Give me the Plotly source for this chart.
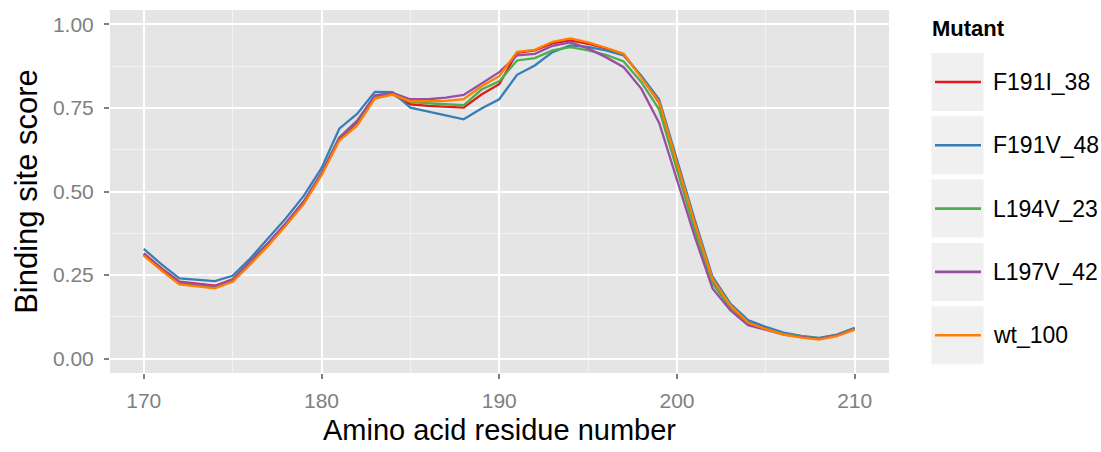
import plotly.graph_objects as go

# Residue positions along the sequence
residues = list(range(170, 211))

# Binding site score per residue for each mutant
f191i_38 = [0.315, 0.270, 0.230, 0.224, 0.218, 0.237, 0.290, 0.346, 0.405, 0.470,
            0.553, 0.657, 0.707, 0.786, 0.791, 0.761, 0.756, 0.753, 0.751, 0.790,
            0.821, 0.915, 0.922, 0.943, 0.952, 0.942, 0.928, 0.911, 0.843, 0.765,
            0.580, 0.400, 0.235, 0.158, 0.110, 0.090, 0.075, 0.066, 0.060, 0.070, 0.090]
f191v_48 = [0.328, 0.282, 0.240, 0.236, 0.232, 0.248, 0.300, 0.360, 0.420, 0.487,
            0.570, 0.688, 0.732, 0.798, 0.797, 0.751, 0.739, 0.728, 0.716, 0.748,
            0.776, 0.849, 0.877, 0.917, 0.937, 0.933, 0.922, 0.907, 0.846, 0.775,
            0.595, 0.415, 0.245, 0.165, 0.115, 0.095, 0.078, 0.068, 0.062, 0.072, 0.092]
l194v_23 = [0.310, 0.266, 0.226, 0.221, 0.215, 0.234, 0.288, 0.344, 0.403, 0.468,
            0.555, 0.662, 0.712, 0.786, 0.795, 0.768, 0.764, 0.762, 0.758, 0.805,
            0.830, 0.892, 0.899, 0.922, 0.932, 0.922, 0.909, 0.889, 0.827, 0.745,
            0.565, 0.385, 0.225, 0.152, 0.106, 0.088, 0.074, 0.066, 0.060, 0.071, 0.090]
l197v_42 = [0.312, 0.268, 0.228, 0.222, 0.217, 0.235, 0.290, 0.345, 0.405, 0.470,
            0.555, 0.660, 0.710, 0.787, 0.795, 0.776, 0.776, 0.781, 0.789, 0.822,
            0.857, 0.907, 0.912, 0.936, 0.946, 0.928, 0.902, 0.872, 0.807, 0.705,
            0.535, 0.365, 0.210, 0.145, 0.100, 0.085, 0.072, 0.065, 0.060, 0.070, 0.088]
wt_100 = [0.308, 0.263, 0.222, 0.216, 0.210, 0.230, 0.282, 0.338, 0.398, 0.462,
          0.548, 0.652, 0.697, 0.778, 0.790, 0.770, 0.770, 0.771, 0.776, 0.815,
          0.845, 0.918, 0.924, 0.948, 0.958, 0.946, 0.930, 0.912, 0.840, 0.768,
          0.585, 0.405, 0.238, 0.160, 0.108, 0.088, 0.072, 0.063, 0.057, 0.067, 0.087]

mutant_names = ["F191I_38", "F191V_48", "L194V_23", "L197V_42", "wt_100"]
mutant_scores = [f191i_38, f191v_48, l194v_23, l197v_42, wt_100]
mutant_colors = ["#E41A1C", "#377EB8", "#4DAF4A", "#984EA3", "#FF7F00"]

x_ticks = [170, 180, 190, 200, 210]
y_ticks = [0.0, 0.25, 0.5, 0.75, 1.0]
y_tick_text = ["0.00", "0.25", "0.50", "0.75", "1.00"]

FONT = "Liberation Sans, Arial, sans-serif"
W, H = 1101, 452
M_L, M_R, M_T, M_B = 110, 212, 10, 79
PW = W - M_L - M_R
PH = H - M_T - M_B


def px_x(px):
    return (px - M_L) / PW


def px_y(py):
    return 1 - (py - M_T) / PH


fig = go.Figure()
for name, scores, color in zip(mutant_names, mutant_scores, mutant_colors):
    fig.add_trace(go.Scatter(
        x=residues, y=scores, mode="lines", name=name,
        line=dict(color=color, width=2.3), showlegend=False,
    ))

# Legend panel: title, grey key boxes, coloured key lines and labels
shapes = []
annotations = [dict(
    text="<b>Mutant</b>", x=px_x(930), y=px_y(29), xref="paper", yref="paper",
    xanchor="left", yanchor="middle", showarrow=False,
    font=dict(family=FONT, size=22, color="black"),
)]
key_top, key_h, key_gap = 53, 58, 5.3
for i, (name, color) in enumerate(zip(mutant_names, mutant_colors)):
    top = key_top + i * (key_h + key_gap)
    mid = top + key_h / 2
    shapes.append(dict(
        type="rect", xref="paper", yref="paper", layer="below",
        x0=px_x(931.5), x1=px_x(983.5), y0=px_y(top + key_h), y1=px_y(top),
        fillcolor="#F0F0F0", line=dict(width=0),
    ))
    shapes.append(dict(
        type="line", xref="paper", yref="paper",
        x0=px_x(935), x1=px_x(981), y0=px_y(mid), y1=px_y(mid),
        line=dict(color=color, width=2.6),
    ))
    annotations.append(dict(
        text=name, x=px_x(991), y=px_y(mid), xref="paper", yref="paper",
        xanchor="left", yanchor="middle", showarrow=False,
        font=dict(family=FONT, size=23, color="black"),
    ))

fig.update_layout(
    width=W, height=H,
    margin=dict(l=M_L, r=M_R, t=M_T, b=M_B),
    paper_bgcolor="white", plot_bgcolor="#E5E5E5",
    font=dict(family=FONT),
    shapes=shapes, annotations=annotations,
    showlegend=False,
)
fig.update_xaxes(
    range=[168.1, 211.93], tickvals=x_ticks, ticktext=[str(v) for v in x_ticks],
    showgrid=True, gridcolor="white", gridwidth=2.2, zeroline=False,
    ticks="outside", ticklen=5, tickwidth=1.5, tickcolor="#7F7F7F",
    tickfont=dict(family=FONT, size=21, color="#7F7F7F"), ticklabelstandoff=4,
    minor=dict(tickvals=[175, 185, 195, 205], showgrid=True, gridcolor="#F2F2F2",
               gridwidth=1, ticks=""),
    title=dict(text="Amino acid residue number", standoff=8,
               font=dict(family=FONT, size=29, color="black")),
    showline=False,
)
fig.update_yaxes(
    range=[-0.043, 1.043], tickvals=y_ticks, ticktext=y_tick_text,
    showgrid=True, gridcolor="white", gridwidth=2.2, zeroline=False,
    ticks="outside", ticklen=5, tickwidth=1.5, tickcolor="#7F7F7F",
    tickfont=dict(family=FONT, size=21, color="#7F7F7F"), ticklabelstandoff=6,
    minor=dict(tickvals=[0.125, 0.375, 0.625, 0.875], showgrid=True,
               gridcolor="#F2F2F2", gridwidth=1, ticks=""),
    title=dict(text="Binding site score", standoff=6,
               font=dict(family=FONT, size=31, color="black")),
    showline=False,
)

fig.write_html("out.html")
